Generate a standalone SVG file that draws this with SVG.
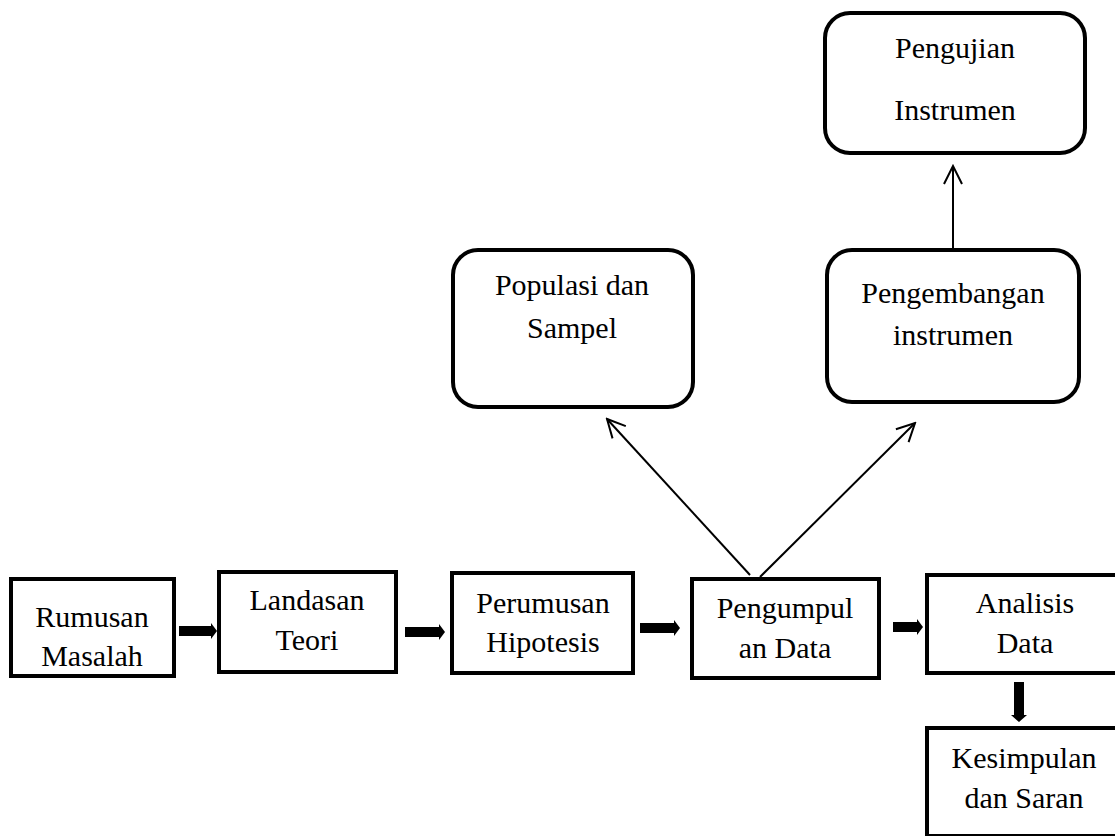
<svg xmlns="http://www.w3.org/2000/svg" width="1115" height="836" viewBox="0 0 1115 836">
<style>
.box{fill:#fff;stroke:#000;stroke-width:4}
.t{font-family:"Liberation Serif","Times New Roman",serif;font-size:30px;fill:#000;text-anchor:middle}
.thin{stroke:#000;stroke-width:2;fill:none}
.thick{fill:#000;stroke:none}
</style>
<defs>
<marker id="open" viewBox="0 0 22 22" refX="20" refY="11" markerWidth="22" markerHeight="22" markerUnits="userSpaceOnUse" orient="auto">
<path d="M2,2 L20,11 L2,20" fill="none" stroke="#000" stroke-width="2"/>
</marker>
</defs>
<rect width="1115" height="836" fill="#fff"/>
<g id="connectors">
<path class="thick" d="M179,626 L211,626 L211,623 L217,631 L211,639 L211,636 L179,636 Z"/>
<path class="thick" d="M405,627 L439,627 L439,624 L445,632 L439,640 L439,637 L405,637 Z"/>
<path class="thick" d="M640,623 L674,623 L674,620 L680,628 L674,636 L674,633 L640,633 Z"/>
<path class="thick" d="M893,622 L917,622 L917,619 L923,627 L917,635 L917,632 L893,632 Z"/>
<path class="thick" d="M1014,682 L1024,682 L1024,715 L1027,715 L1019,722 L1011,715 L1014,715 Z"/>
<line class="thin" x1="953" y1="248" x2="953" y2="166" marker-end="url(#open)"/>
<line class="thin" x1="750" y1="575" x2="607" y2="419" marker-end="url(#open)"/>
<line class="thin" x1="760" y1="577" x2="915" y2="423" marker-end="url(#open)"/>
</g>
<g id="rumusan">
<rect class="box" x="11" y="579" width="163" height="97"/>
<text class="t" x="92" y="627">Rumusan</text>
<text class="t" x="92" y="666">Masalah</text>
</g>
<g id="landasan">
<rect class="box" x="219" y="572" width="177" height="100"/>
<text class="t" x="307" y="610">Landasan</text>
<text class="t" x="307" y="650">Teori</text>
</g>
<g id="perumusan">
<rect class="box" x="452" y="573" width="181" height="100"/>
<text class="t" x="543" y="613">Perumusan</text>
<text class="t" x="543" y="652">Hipotesis</text>
</g>
<g id="pengumpulan">
<rect class="box" x="692" y="579" width="187" height="99"/>
<text class="t" x="785" y="618">Pengumpul</text>
<text class="t" x="785" y="658">an Data</text>
</g>
<g id="analisis">
<rect class="box" x="927" y="575" width="200" height="98"/>
<text class="t" x="1025" y="613">Analisis</text>
<text class="t" x="1025" y="653">Data</text>
</g>
<g id="kesimpulan">
<rect class="box" x="927" y="728" width="200" height="108"/>
<text class="t" x="1024" y="768">Kesimpulan</text>
<text class="t" x="1024" y="808">dan Saran</text>
</g>
<g id="populasi">
<rect class="box" x="453" y="250" width="240" height="157" rx="25" ry="25"/>
<text class="t" x="572" y="295">Populasi dan</text>
<text class="t" x="572" y="338">Sampel</text>
</g>
<g id="pengembangan">
<rect class="box" x="827" y="250" width="252" height="152" rx="25" ry="25"/>
<text class="t" x="953" y="303">Pengembangan</text>
<text class="t" x="953" y="345">instrumen</text>
</g>
<g id="pengujian">
<rect class="box" x="825" y="13" width="260" height="140" rx="25" ry="25"/>
<text class="t" x="955" y="58">Pengujian</text>
<text class="t" x="955" y="120">Instrumen</text>
</g>
</svg>
